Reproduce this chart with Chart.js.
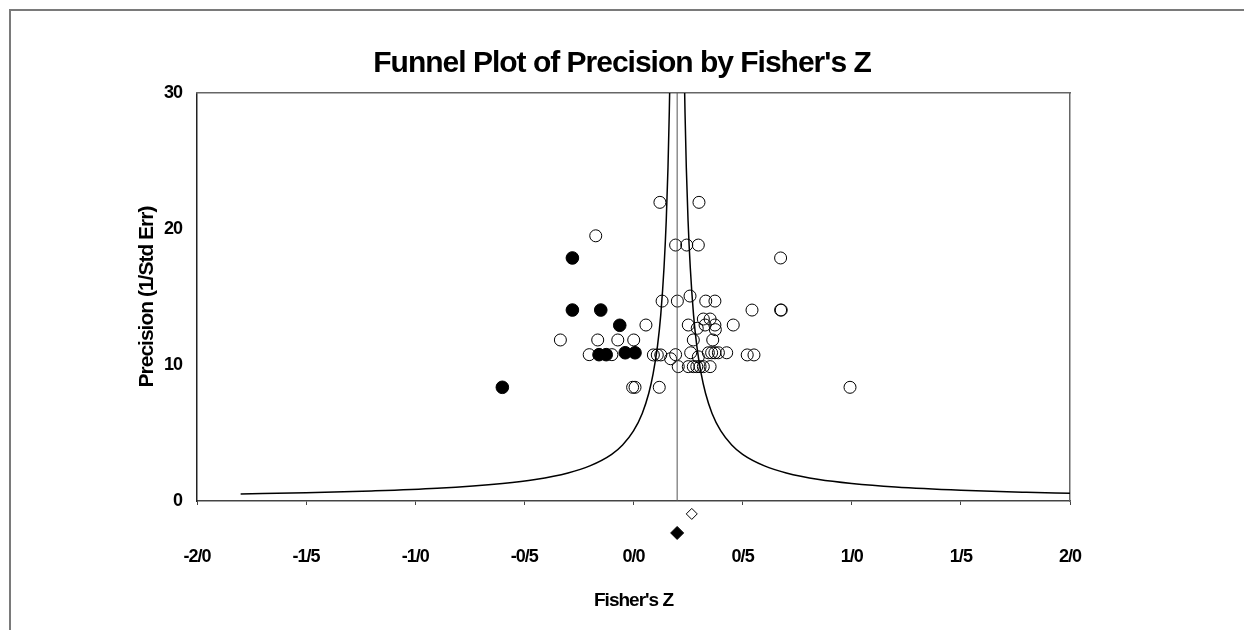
<!DOCTYPE html>
<html>
<head>
<meta charset="utf-8">
<script src="https://cdn.jsdelivr.net/npm/chart.js@4.4.1/dist/chart.umd.min.js"></script>
<style>
  html, body { margin: 0; padding: 0; background: #fff; }
  .wrap { position: relative; width: 1244px; height: 630px; overflow: hidden; }
  .frame { position: absolute; left: 9px; top: 9px; width: 1300px; height: 700px;
           border-top: 2px solid #7a7a7a; border-left: 2px solid #7a7a7a; }
  canvas { position: absolute; left: 0; top: 0; }
</style>
</head>
<body>
<div class="wrap">
  <div class="frame"></div>
  <canvas id="chart" width="1244" height="630"></canvas>
</div>
<script>
// x tick labels as printed on the original (decimal sign shown as "/")
const xTickValues = [-2, -1.5, -1, -0.5, 0, 0.5, 1, 1.5, 2];
const xTickLabels = ['-2/0', '-1/5', '-1/0', '-0/5', '0/0', '0/5', '1/0', '1/5', '2/0'];

// observed studies (open circles)
const observedZ = [
  0.121, 0.300, -0.173, 0.193, 0.244, 0.297, 0.674,
  0.131, 0.201, 0.259, 0.331, 0.373, 0.543, 0.674, 0.677,
  0.057, 0.251, 0.292, 0.328, 0.373, 0.375, 0.457, 0.320, 0.351,
  -0.335, -0.164, -0.072, 0.001, 0.274, 0.363,
  -0.203, -0.099, 0.091, 0.109, 0.125, 0.170, 0.193, 0.262, 0.297, 0.343, 0.358, 0.373, 0.389, 0.427, 0.521, 0.552,
  0.205, 0.251, 0.274, 0.290, 0.305, 0.320, 0.351,
  -0.004, 0.007, 0.118, 0.992
];
const observedPrecision = [
  21.96, 21.96, 19.5, 18.82, 18.82, 18.82, 17.87,
  14.7, 14.7, 15.07, 14.7, 14.7, 14.04, 14.04, 14.04,
  12.94, 12.94, 12.7, 12.94, 12.94, 12.6, 12.94, 13.38, 13.38,
  11.84, 11.84, 11.84, 11.84, 11.84, 11.84,
  10.76, 10.76, 10.74, 10.74, 10.74, 10.46, 10.76, 10.9, 10.6, 10.9, 10.9, 10.9, 10.9, 10.9, 10.74, 10.74,
  9.88, 9.88, 9.88, 9.88, 9.88, 9.88, 9.88,
  8.36, 8.36, 8.36, 8.36
];

// imputed studies (filled circles)
const imputedZ = [-0.601, -0.280, -0.280, -0.150, -0.063, -0.158, -0.125, -0.038, 0.007];
const imputedPrecision = [8.36, 17.87, 14.04, 14.04, 12.92, 10.76, 10.76, 10.9, 10.9];

// combined effects shown under the axis
const observedEffect = { z: 0.267, precision: -0.95 };
const adjustedEffect = { z: 0.200, precision: -2.35 };

// funnel limits
const funnelLeftZ = [-1.8, -1.5, -1.2, -0.9, -0.6, -0.45, -0.3, -0.2, -0.1, -0.05, 0.0, 0.04, 0.07, 0.09, 0.11, 0.125, 0.14, 0.15, 0.158, 0.164, 0.168];
const funnelLeftPrecision = [0.515, 0.606, 0.736, 0.936, 1.29, 1.58, 2.06, 2.58, 3.43, 4.12, 5.15, 6.44, 7.92, 9.36, 11.4, 13.7, 17.2, 20.6, 24.5, 28.6, 32.2];
const funnelRightZ = [0.232, 0.236, 0.242, 0.25, 0.26, 0.275, 0.29, 0.31, 0.33, 0.36, 0.4, 0.45, 0.5, 0.6, 0.7, 0.85, 1.0, 1.2, 1.5, 1.8, 2.0];
const funnelRightPrecision = [32.2, 28.6, 24.5, 20.6, 17.2, 13.7, 11.4, 9.36, 7.92, 6.44, 5.15, 4.12, 3.43, 2.58, 2.06, 1.58, 1.29, 1.03, 0.792, 0.644, 0.572];

const centerZ = 0.2;

const pts = (xs, ys) => xs.map((x, i) => ({ x: x, y: ys[i] }));
const FONT = "'Liberation Sans', Arial, Helvetica, sans-serif";

const tightText = {
  id: 'tightText',
  beforeLayout(chart) { chart.ctx.letterSpacing = '-1px'; },
  beforeDraw(chart) { chart.ctx.letterSpacing = '-1px'; }
};

// the two diamonds sit under the x axis; let them be drawn outside the plot box
const belowAxis = {
  id: 'belowAxis',
  beforeDatasetDraw(chart, args) {
    if (!chart.data.datasets[args.index].belowAxis) return;
    this._saved = chart.chartArea;
    chart.chartArea = Object.assign({}, chart.chartArea, { bottom: chart.chartArea.bottom + 80 });
  },
  afterDatasetDraw(chart, args) {
    if (!chart.data.datasets[args.index].belowAxis) return;
    chart.chartArea = this._saved;
  }
};

new Chart(document.getElementById('chart').getContext('2d'), {
  type: 'scatter',
  data: {
    datasets: [
      {
        label: 'funnel left',
        type: 'line',
        data: pts(funnelLeftZ, funnelLeftPrecision),
        borderColor: '#000',
        borderWidth: 1.5,
        pointRadius: 0,
        cubicInterpolationMode: 'monotone',
        fill: false
      },
      {
        label: 'funnel right',
        type: 'line',
        data: pts(funnelRightZ, funnelRightPrecision),
        borderColor: '#000',
        borderWidth: 1.5,
        pointRadius: 0,
        cubicInterpolationMode: 'monotone',
        fill: false
      },
      {
        label: 'center',
        type: 'line',
        data: [{ x: centerZ, y: 0 }, { x: centerZ, y: 30 }],
        borderColor: '#555',
        borderWidth: 1,
        pointRadius: 0
      },
      {
        label: 'observed',
        data: pts(observedZ, observedPrecision),
        pointRadius: 6,
        pointBorderWidth: 1,
        pointBorderColor: '#000',
        pointBackgroundColor: 'rgba(255,255,255,0)'
      },
      {
        label: 'imputed',
        data: pts(imputedZ, imputedPrecision),
        pointRadius: 6.3,
        pointBorderWidth: 1,
        pointBorderColor: '#000',
        pointBackgroundColor: '#000'
      },
      {
        label: 'observed combined',
        data: [{ x: observedEffect.z, y: observedEffect.precision }],
        belowAxis: true,
        pointStyle: 'rectRot',
        pointRadius: 5.5,
        pointBorderWidth: 1,
        pointBorderColor: '#000',
        pointBackgroundColor: '#fff',
        clip: false
      },
      {
        label: 'adjusted combined',
        data: [{ x: adjustedEffect.z, y: adjustedEffect.precision }],
        belowAxis: true,
        pointStyle: 'rectRot',
        pointRadius: 6.5,
        pointBorderWidth: 1,
        pointBorderColor: '#000',
        pointBackgroundColor: '#000',
        clip: false
      }
    ]
  },
  options: {
    responsive: false,
    animation: false,
    events: [],
    layout: { padding: { left: 0, right: 0, top: 0, bottom: 4 } },
    plugins: {
      legend: { display: false },
      tooltip: { enabled: false },
      title: {
        display: true,
        text: "Funnel Plot of Precision by Fisher's Z",
        color: '#000',
        font: { family: FONT, size: 30, weight: 'bold' },
        padding: { top: 46, bottom: 11 }
      }
    },
    scales: {
      x: {
        type: 'linear',
        position: 'bottom',
        min: -2,
        max: 2,
        afterFit: (scale) => { scale.height = 125; },
        ticks: {
          stepSize: 0.5,
          padding: 41,
          color: '#000',
          font: { family: FONT, size: 18, weight: 'bold' },
          callback: (value) => {
            const i = xTickValues.findIndex(v => Math.abs(v - value) < 1e-6);
            return i >= 0 ? xTickLabels[i] : '';
          }
        },
        grid: { display: true, drawOnChartArea: false, tickLength: 4, color: '#444' },
        border: { display: true, color: '#444', width: 1.5 },
        title: {
          display: true,
          text: "Fisher's Z",
          color: '#000',
          font: { family: FONT, size: 19, weight: 'bold' },
          padding: { top: 10, bottom: 14 }
        }
      },
      y: {
        type: 'linear',
        position: 'left',
        min: 0,
        max: 30,
        afterFit: (scale) => { scale.width = 197; },
        ticks: {
          stepSize: 10,
          padding: 15,
          color: '#000',
          font: { family: FONT, size: 18, weight: 'bold' }
        },
        grid: { display: false, drawTicks: false },
        border: { display: true, color: '#222', width: 1.5 },
        title: {
          display: true,
          text: 'Precision (1/Std Err)',
          color: '#000',
          font: { family: FONT, size: 21, weight: 'bold' },
          padding: { top: 135, bottom: 4 }
        }
      },
      x2: {
        type: 'linear',
        position: 'top',
        min: -2,
        max: 2,
        ticks: { display: false },
        grid: { display: false, drawTicks: false },
        border: { display: true, color: '#666', width: 1.5 }
      },
      y2: {
        type: 'linear',
        position: 'right',
        min: 0,
        max: 30,
        afterFit: (scale) => { scale.width = 174; },
        ticks: { display: false },
        grid: { display: false, drawTicks: false },
        border: { display: true, color: '#666', width: 1.5 }
      }
    }
  },
  plugins: [tightText, belowAxis]
});
</script>
</body>
</html>
